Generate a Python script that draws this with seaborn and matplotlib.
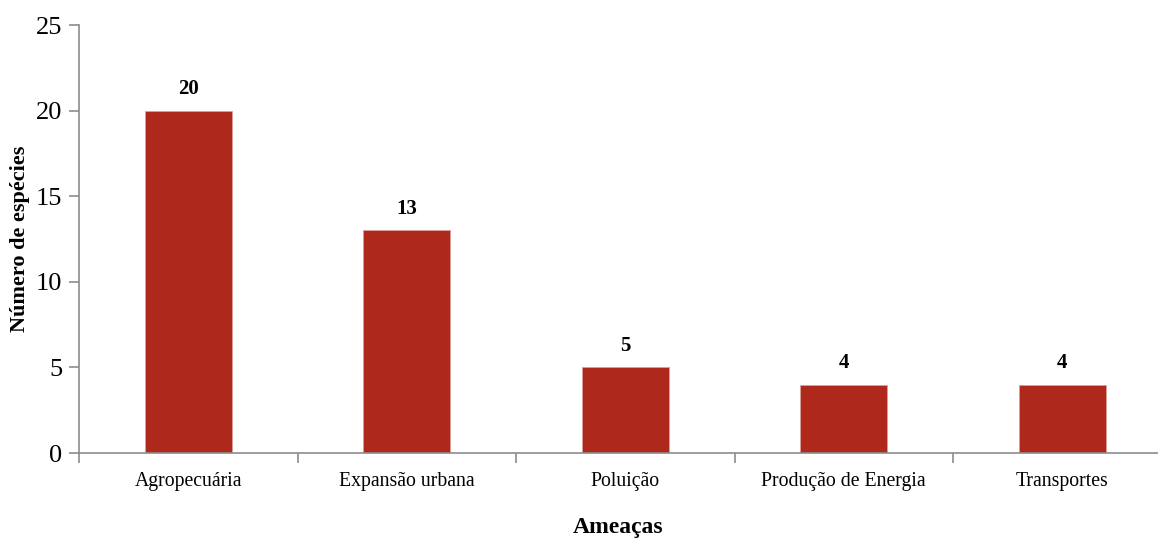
import matplotlib
matplotlib.use("Agg")
import matplotlib.pyplot as plt
import pandas as pd
import seaborn as sns

categories = ["Agropecuária", "Expansão urbana", "Poluição", "Produção de Energia", "Transportes"]
counts = [20, 13, 5, 4, 4]

df = pd.DataFrame({"Ameaças": categories, "Número de espécies": counts})

sns.set_style("white")
plt.rcParams["font.family"] = ["Liberation Serif", "DejaVu Serif"]
plt.rcParams["text.color"] = "black"
plt.rcParams["axes.labelcolor"] = "black"
plt.rcParams["xtick.labelcolor"] = "black"
plt.rcParams["ytick.labelcolor"] = "black"

fig = plt.figure(figsize=(11.58, 5.38), dpi=100)
ax = fig.add_axes([79 / 1158, 1 - 453 / 538, 1 - 79 / 1158, (453 - 25) / 538])

sns.barplot(data=df, x="Ameaças", y="Número de espécies", color="#AE281C",
            width=0.4, edgecolor="#D9A09A", linewidth=0.6, saturation=1, ax=ax)

for side in ["top", "right"]:
    ax.spines[side].set_visible(False)
for side in ["left", "bottom"]:
    ax.spines[side].set_color("#8C8C8C")
    ax.spines[side].set_linewidth(1.2)

ax.set_yticks([0, 5, 10, 15, 20, 25])
ax.tick_params(axis="y", which="major", left=True, length=7, width=1.2, color="#8C8C8C",
               labelsize=19, pad=5)
ax.tick_params(axis="x", which="major", bottom=False, labelsize=14.2, pad=10)
ax.set_xticks([i - 0.5 for i in range(len(categories))], minor=True)
ax.tick_params(axis="x", which="minor", bottom=True, length=7, width=1.2, color="#8C8C8C")

# the reference crops the last category slot at the right edge
ax.set_xlim(-0.5, (1158 - 79) / 218.5 - 0.5)
ax.set_ylim(0, 25)

ax.bar_label(ax.containers[0], padding=8, fontsize=15, fontweight="bold")

ax.set_xlabel("Ameaças", fontsize=17, fontweight="bold", labelpad=19)
ax.set_ylabel("Número de espécies", fontsize=16, fontweight="bold", labelpad=4)

fig.savefig("out.png", dpi=100)
